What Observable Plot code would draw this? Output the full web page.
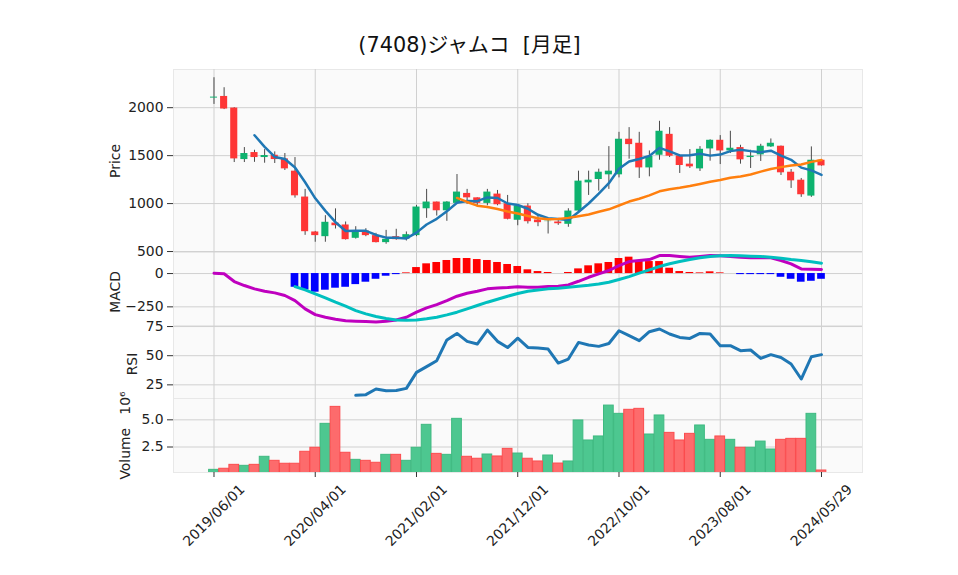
<!DOCTYPE html>
<html>
<head>
<meta charset="utf-8">
<script src="https://cdn.jsdelivr.net/npm/d3@7"></script>
<script src="https://cdn.jsdelivr.net/npm/@observablehq/plot@0.6"></script>
<style>
  body { margin: 0; background: #fff; }
  #chart { position: relative; width: 958px; height: 575px; background: #fff; overflow: hidden; }
  #chart svg { position: absolute; left: 0; overflow: visible; }
</style>
</head>
<body>
<div id="chart"></div>
<script>
const titleText = "(7408)ジャムコ\u00a0\u00a0[月足]";
const tickIdx = [0, 10, 20, 30, 40, 50, 60];
const tickLabels = ["2019/06/01", "2020/04/01", "2021/02/01", "2021/12/01", "2022/10/01", "2023/08/01", "2024/05/29"];

const open  = [2100,2117,1996,1459,1532,1480,1504,1466,1338,1068,704,655,797,777,638,714,666,593,655,628,666,946,1016,925,1002,1106,1060,1002,1099,998,826,974,829,812,808,784,922,1216,1251,1300,1300,1671,1629,1372,1504,1722,1497,1411,1362,1570,1660,1549,1584,1480,1508,1591,1598,1327,1244,1078,1452];
const high  = [2312,2208,2000,1584,1556,1563,1539,1522,1480,1148,710,874,945,808,759,738,690,721,732,704,981,1148,1016,1020,1303,1148,1060,1148,1137,1085,980,998,880,830,822,946,1338,1338,1359,1594,1743,1792,1743,1549,1858,1792,1500,1563,1594,1665,1709,1754,1608,1556,1618,1674,1600,1355,1262,1591,1455];
const low   = [2034,1980,1428,1428,1430,1421,1418,1345,1057,669,597,597,735,620,630,655,590,576,617,610,655,846,870,815,995,992,964,977,977,830,769,787,759,683,773,753,915,1085,1130,1148,1268,1463,1262,1279,1452,1480,1314,1366,1335,1442,1407,1522,1411,1366,1439,1585,1293,1158,1065,1065,1390];
const close = [2110,1986,1466,1522,1480,1501,1459,1362,1081,707,666,805,769,624,714,666,593,628,624,676,964,1016,925,1016,1120,1060,1002,1120,988,836,977,811,801,816,790,922,1234,1244,1327,1338,1671,1615,1372,1491,1754,1494,1397,1383,1566,1660,1549,1577,1456,1494,1598,1629,1321,1237,1092,1452,1393];

const ma5  = [null,null,null,null,1713,1591,1486,1465,1377,1222,1055,924,806,714,716,716,673,645,645,637,697,782,841,919,1008,1027,1025,1064,1058,1001,985,946,883,848,839,828,913,1001,1103,1213,1363,1439,1465,1497,1581,1545,1502,1504,1519,1500,1511,1547,1562,1547,1535,1551,1500,1456,1375,1346,1299];
const ma25 = [null,null,null,null,null,null,null,null,null,null,null,null,null,null,null,null,null,null,null,null,null,null,null,null,1059,1017,978,964,943,917,896,870,848,837,840,851,868,887,915,940,980,1021,1051,1085,1128,1150,1165,1183,1205,1227,1246,1269,1283,1303,1333,1360,1380,1397,1408,1435,1454];

// volume in millions
const volume = [0.40,0.50,0.86,0.77,0.86,1.60,1.23,0.96,0.96,2.06,2.43,4.63,6.19,1.97,1.32,1.23,1.05,1.78,1.78,1.23,2.43,4.54,1.87,1.78,5.09,1.60,1.42,1.81,1.63,2.33,1.90,1.42,1.17,1.72,0.98,1.17,4.94,3.10,3.47,6.31,5.55,5.92,6.01,3.65,5.40,3.80,3.10,3.71,4.48,3.16,3.47,3.16,2.43,2.43,3.00,2.27,3.16,3.25,3.25,5.55,0.34];

const macd = [2,-2,-60,-90,-115,-133,-145,-165,-203,-265,-308,-328,-343,-355,-358,-360,-363,-358,-348,-328,-290,-258,-233,-203,-170,-148,-133,-115,-108,-105,-100,-103,-103,-98,-95,-85,-58,-28,-3,23,60,90,98,105,135,135,128,122,128,135,133,128,122,118,118,118,98,73,35,33,30];
const signal = [null,null,null,null,null,null,null,null,-98,-123,-153,-183,-215,-245,-278,-303,-323,-338,-348,-350,-348,-340,-328,-310,-290,-265,-240,-215,-193,-170,-150,-133,-123,-115,-110,-103,-95,-88,-78,-65,-45,-23,3,28,53,73,90,105,118,128,133,135,133,130,128,122,115,105,98,88,78];
const hist = [null,null,null,null,null,null,null,null,-103,-123,-140,-125,-110,-103,-83,-65,-43,-20,-8,5,45,73,83,98,113,113,105,98,83,68,53,28,15,8,0,8,35,58,73,83,113,123,98,90,90,40,15,8,5,13,5,0,-8,-8,-8,-8,-28,-43,-65,-58,-43];

const rsi = [null,null,null,null,null,null,null,null,null,null,null,null,null,null,16,16.6,21.4,20,20.2,22,35.7,40.6,45.7,63.5,69.1,62.3,60,72,62.3,57,65,57.1,56.6,55.7,43.7,47.1,61.4,59.2,58,60.5,71.4,67.2,62.9,70.6,72.9,68.6,65.7,64.8,69.1,68.6,58.6,58.6,54.3,54.9,47.7,50.9,48.5,42.9,30,49.1,50.9];

const priceTicks = [500, 1000, 1500, 2000];
const macdTicks = [-250, 0];
const rsiTicks = [25, 50, 75];
const volTicks = [2.5, 5.0];

// ---- build ----
const UP = "#0db26e", DOWN = "#fe3636";
const VUP = "#4dc790", VDOWN = "#fd6b6c", VUPE = "#3fb981", VDOWNE = "#fb4c4e";
const BG = "#fafafa", EDGE = "#e8e8e8", GRID = "#d0d0d0";
const FONT = "'DejaVu Sans', 'Noto Sans CJK JP', sans-serif";
const xDomain = [-4, 64.05];
const idx = d3.range(close.length);
const candles = idx.map(i => ({i, o: open[i], h: high[i], l: low[i], c: close[i], up: close[i] >= open[i], v: volume[i]}));
const series = arr => idx.map(i => ({i, v: arr[i]}));
const chart = document.getElementById("chart");
const intFmt = d => d3.format("d")(d).replace("-", "\u2212");

function base(height, marginBottom) {
  return {
    width: 958, height, marginLeft: 173, marginRight: 96, marginTop: 0, marginBottom,
    style: {fontFamily: FONT, fontSize: "13.9px", color: "#222", background: "none", overflow: "visible"}
  };
}
function place(svg, top) { svg.style.top = top + "px"; chart.appendChild(svg); }
const gridX = Plot.gridX(tickIdx, {stroke: GRID, strokeOpacity: 1, strokeWidth: 1});
const yAxis = (ticks, fmt) => Plot.axisY(ticks, {tickSize: 6, tickPadding: 4, label: null, stroke: "#333", tickFormat: fmt});
const yLabel = (t, dx, dy) => Plot.text([t], {frameAnchor: "left", dx, dy, rotate: -90, textAnchor: "middle", lineAnchor: "middle", fill: "#222"});

// Price panel
place(Plot.plot({
  ...base(183, 0),
  x: {domain: xDomain, axis: null},
  y: {domain: [490, 2398]},
  marks: [
    Plot.frame({fill: BG, stroke: EDGE}),
    gridX,
    Plot.gridY(priceTicks, {stroke: GRID, strokeOpacity: 1}),
    Plot.ruleX(candles, {x: "i", y1: "l", y2: "h", stroke: "#4a4a4a", strokeWidth: 1}),
    Plot.rectY(candles.filter(d => d.up), {x1: d => d.i - 0.35, x2: d => d.i + 0.35, y1: "o", y2: "c", fill: UP}),
    Plot.rectY(candles.filter(d => !d.up), {x1: d => d.i - 0.35, x2: d => d.i + 0.35, y1: "o", y2: "c", fill: DOWN}),
    Plot.line(series(ma5), {x: "i", y: "v", stroke: "#1f77b4", strokeWidth: 2.5}),
    Plot.line(series(ma25), {x: "i", y: "v", stroke: "#ff7f0e", strokeWidth: 2.5}),
    yAxis(priceTicks, intFmt),
    yLabel("Price", -58, 0)
  ]
}), 69);

// MACD panel
const histRows = series(hist).filter(d => d.v != null);
place(Plot.plot({
  ...base(73, 0),
  x: {domain: xDomain, axis: null},
  y: {domain: [-390, 158]},
  marks: [
    Plot.frame({fill: BG, stroke: EDGE}),
    gridX,
    Plot.gridY(macdTicks, {stroke: GRID, strokeOpacity: 1}),
    Plot.rectY(histRows.filter(d => d.v >= 0), {x1: d => d.i - 0.38, x2: d => d.i + 0.38, y1: 0, y2: "v", fill: "#ff0000"}),
    Plot.rectY(histRows.filter(d => d.v < 0), {x1: d => d.i - 0.38, x2: d => d.i + 0.38, y1: 0, y2: "v", fill: "#0000ff"}),
    Plot.line(series(macd), {x: "i", y: "v", stroke: "#bf00bf", strokeWidth: 3}),
    Plot.line(series(signal), {x: "i", y: "v", stroke: "#00bfbf", strokeWidth: 3}),
    yAxis(macdTicks, intFmt),
    yLabel("MACD", -58, 3)
  ]
}), 252);

// RSI panel
place(Plot.plot({
  ...base(73, 0),
  x: {domain: xDomain, axis: null},
  y: {domain: [13.3, 75.9]},
  marks: [
    Plot.frame({fill: BG, stroke: EDGE}),
    gridX,
    Plot.gridY(rsiTicks, {stroke: GRID, strokeOpacity: 1}),
    Plot.line(series(rsi), {x: "i", y: "v", stroke: "#1f77b4", strokeWidth: 3}),
    yAxis(rsiTicks, intFmt),
    yLabel("RSI", -41, 2)
  ]
}), 325);

// Volume panel + x axis
place(Plot.plot({
  ...base(177, 103),
  x: {domain: xDomain},
  y: {domain: [0.156, 6.96]},
  marks: [
    Plot.frame({fill: BG, stroke: EDGE}),
    gridX,
    Plot.gridY(volTicks, {stroke: GRID, strokeOpacity: 1}),
    Plot.rectY(candles.filter(d => d.up), {x1: d => d.i - 0.48, x2: d => d.i + 0.48, y1: 0, y2: "v", fill: VUP, stroke: VUPE, strokeWidth: 1, clip: true}),
    Plot.rectY(candles.filter(d => !d.up), {x1: d => d.i - 0.48, x2: d => d.i + 0.48, y1: 0, y2: "v", fill: VDOWN, stroke: VDOWNE, strokeWidth: 1, clip: true}),
    yAxis(volTicks, d3.format(".1f")),
    Plot.axisX(tickIdx, {tickSize: 5, tickFormat: () => "", label: null, stroke: "#333"}),
    Plot.text(tickIdx, {x: d => d, text: (d, i) => tickLabels[i], frameAnchor: "bottom", dy: 43, rotate: -45, textAnchor: "middle", lineAnchor: "middle", fill: "#222"}),
    yLabel("Volume\u00a0\u00a0\u00a010\u2076", -47.5, 0)
  ]
}), 398);

// Title
const tsvg = d3.create("svg").attr("width", 958).attr("height", 69);
tsvg.append("text").attr("x", 469.5).attr("y", 52.3).attr("text-anchor", "middle")
  .attr("font-family", FONT).attr("font-size", 20.8).attr("fill", "#111").text(titleText);
place(tsvg.node(), 0);
</script>
</body>
</html>
